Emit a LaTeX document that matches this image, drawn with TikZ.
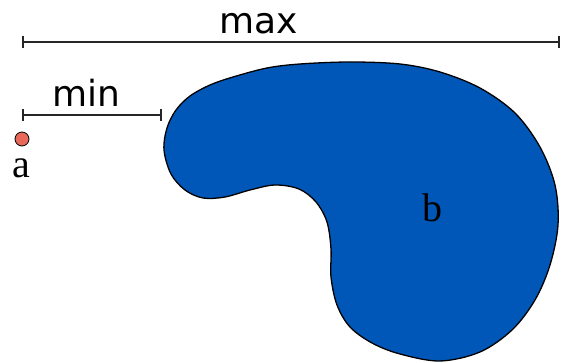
\documentclass[tikz,border=0pt]{standalone}
\usepackage{fontspec}
\usetikzlibrary{arrows.meta}
\setmainfont{Liberation Serif}
\newfontfamily\labelsans{DejaVu Sans}
\definecolor{blobblue}{RGB}{0,87,183}
\definecolor{salmon}{RGB}{232,104,90}
\tikzset{
  dimline/.style={draw=black!85, line width=2pt, {Bar[width=12pt]}-{Bar[width=12pt]}},
  dimtext/.style={font=\labelsans\fontsize{36}{36}\selectfont, inner sep=0pt},
  serifname/.style={font=\fontsize{40}{40}\selectfont, inner sep=0pt},
}
\begin{document}
\begin{tikzpicture}[x=1pt,y=-1pt]
\useasboundingbox (0,0) rectangle (563,363);
% blob b
\draw[fill=blobblue, draw=black, line width=1.3pt]
  plot[smooth cycle, tension=0.55] coordinates {
  (164,150) (167,128) (176,110) (190,96) (210,85) (233,77) (267,68) (300,64)
  (350,62) (400,64) (440,72) (480,88) (515,113) (540,147) (555,185) (558,225)
  (550,265) (535,300) (512,330) (480,352) (440,361) (400,354) (372,343)
  (350,327) (337,305) (331,277) (331,249) (327,222) (316,202) (299,189)
  (275,185) (250,190) (225,197) (203,198) (185,190) (171,174)};
\node[serifname] (b) at (432,208) {b};
% max dimension
\coordinate (maxL) at (22,42);
\coordinate (maxR) at (560,42);
\draw[dimline] (maxL) -- (maxR);
\node[dimtext, anchor=base] (maxlabel) at (259,34) {max};
% min dimension
\coordinate (minL) at (22,115);
\coordinate (minR) at (162,115);
\draw[dimline] (minL) -- (minR);
\node[dimtext, anchor=base] (minlabel) at (86,107) {min};
% point a
\node[circle, fill=salmon, draw=black, line width=0.8pt, minimum size=14pt, inner sep=0pt] (pa) at (22,139) {};
\node[serifname, anchor=base] (alabel) at (21,178) {a};
\end{tikzpicture}
\end{document}
